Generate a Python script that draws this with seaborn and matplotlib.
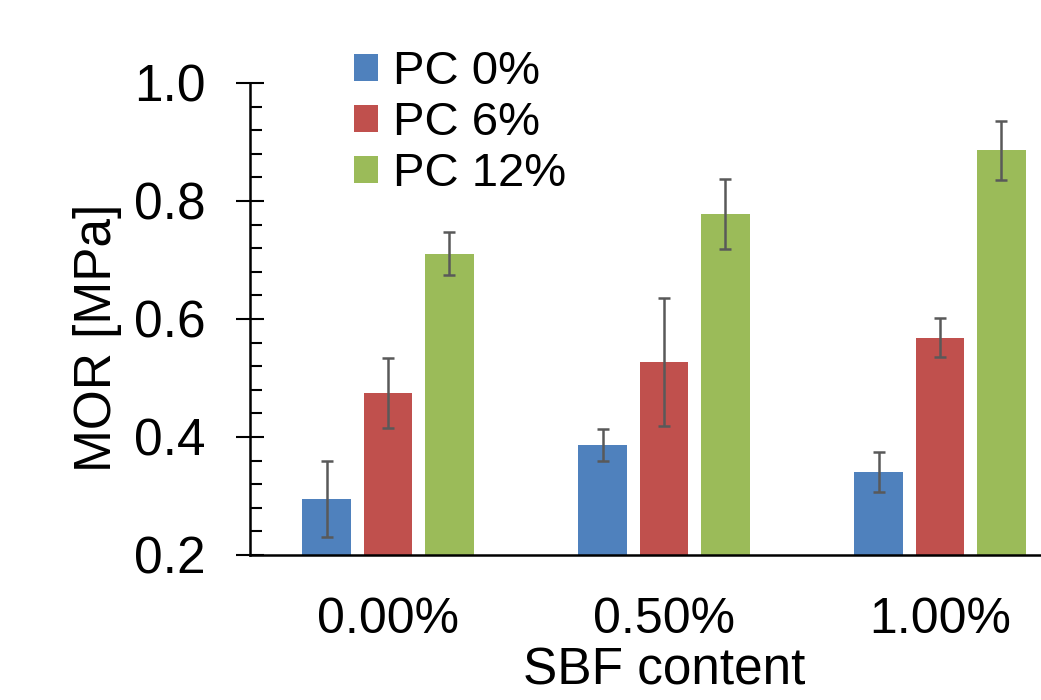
import numpy as np
import pandas as pd
import matplotlib
matplotlib.use("Agg")
import matplotlib.pyplot as plt
from matplotlib.ticker import MultipleLocator, FormatStrFormatter
import seaborn as sns

# values
sbf_content = ["0.00%", "0.50%", "1.00%"]
series_names = ["PC 0%", "PC 6%", "PC 12%"]
pc0_mor = [0.295, 0.386, 0.341]
pc6_mor = [0.475, 0.527, 0.568]
pc12_mor = [0.711, 0.778, 0.886]
pc0_err = [0.065, 0.027, 0.034]
pc6_err = [0.059, 0.109, 0.033]
pc12_err = [0.037, 0.060, 0.050]

colors = ["#4F81BD", "#C0504D", "#9BBB59"]

df = pd.DataFrame({
    "SBF": sbf_content * 3,
    "Series": [s for s in series_names for _ in sbf_content],
    "MOR": pc0_mor + pc6_mor + pc12_mor,
})
errors = [pc0_err, pc6_err, pc12_err]
values = [pc0_mor, pc6_mor, pc12_mor]

sns.set_style("white")
plt.rcParams["font.family"] = ["Liberation Sans", "DejaVu Sans"]
plt.rcParams["text.color"] = "black"
plt.rcParams["axes.labelcolor"] = "black"
plt.rcParams["xtick.color"] = "black"
plt.rcParams["ytick.color"] = "black"

fig = plt.figure(figsize=(10.41, 7.0), dpi=100)
# axes runs past the right edge of the figure, as in the reference
ax = fig.add_axes([250 / 1041, 145 / 700, 828 / 1041, 472 / 700])

sns.barplot(data=df, x="SBF", y="MOR", hue="Series", hue_order=series_names,
            order=sbf_content, palette=colors, saturation=1, width=0.667, gap=0.21,
            errorbar=None, linewidth=0, ax=ax)

for cont, vals, errs in zip(ax.containers, values, errors):
    xs = [p.get_x() + p.get_width() / 2 for p in cont]
    ax.errorbar(xs, vals, yerr=errs, fmt="none", ecolor="#595959",
                elinewidth=1.8, capsize=4.5, capthick=1.8, zorder=5)

ax.set_xlim(-0.5, 2.5)
ax.set_ylim(0.2, 1.0)
ax.yaxis.set_major_locator(MultipleLocator(0.2))
ax.yaxis.set_minor_locator(MultipleLocator(0.04))
ax.yaxis.set_major_formatter(FormatStrFormatter("%.1f"))

for side in ["top", "right"]:
    ax.spines[side].set_visible(False)
for side in ["left", "bottom"]:
    ax.spines[side].set_linewidth(1.8)
    ax.spines[side].set_color("black")

ax.tick_params(axis="y", which="major", left=True, direction="inout", length=20,
               width=1.5, labelsize=37, pad=22, color="black", labelcolor="black")
ax.tick_params(axis="y", which="minor", left=True, direction="in", length=8.5,
               width=1.5, color="black")
ax.tick_params(axis="x", bottom=False, length=0, labelsize=36, pad=30,
               labelcolor="black")

ax.set_xlabel("SBF content", fontsize=37, labelpad=3)
ax.set_ylabel("MOR [MPa]", fontsize=37)
ax.yaxis.set_label_coords(-0.155, 0.46)

ax.legend(loc="upper left", bbox_to_anchor=(354 / 1041, 1 - 50 / 700),
          bbox_transform=fig.transFigure, frameon=False, fontsize=34,
          handlelength=0.5, handleheight=0.5, handletextpad=0.33,
          labelspacing=0.15, borderpad=0, borderaxespad=0)

fig.savefig("out.png", dpi=100)
